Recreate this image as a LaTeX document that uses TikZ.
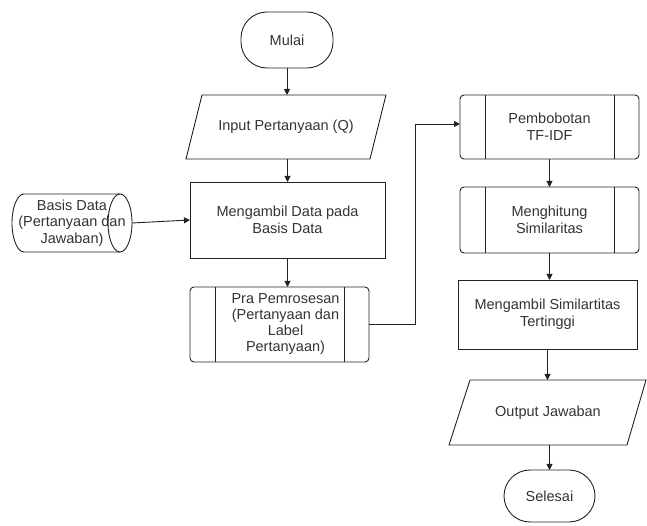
\documentclass[tikz,border=0pt]{standalone}
\usepackage{fontspec}
\setmainfont{Liberation Sans}
\usetikzlibrary{arrows.meta,calc}
\definecolor{txt}{HTML}{333333}
\definecolor{ln}{HTML}{222222}
\begin{document}
\begin{tikzpicture}[x=1pt,y=1pt,
  every node/.style={font=\fontsize{14.5}{16.5}\selectfont, text=txt, outer sep=0pt, inner sep=0pt, align=center},
  shp/.style={draw=ln, line width=0.9pt},
  term/.style={shp, rectangle, rounded corners=26pt},
  proc/.style={shp, rectangle},
  pproc/.style={shp, rectangle, rounded corners=4pt,
    path picture={
      \draw[ln, line width=0.9pt] ([xshift=25pt]path picture bounding box.north west) -- ([xshift=25pt]path picture bounding box.south west);
      \draw[ln, line width=0.9pt] ([xshift=-25pt]path picture bounding box.north east) -- ([xshift=-25pt]path picture bounding box.south east);}},
  io/.style={rectangle},
  arr/.style={draw=ln, line width=0.9pt, -{Triangle[length=6pt,width=6pt]}}
]
\useasboundingbox (0,0) rectangle (647,526);

% nodes
\node[term, minimum width=92pt, minimum height=56pt] (mulai) at (287,486) {Mulai};
\node[io, minimum width=200pt, minimum height=64pt] (inp) at (286,399) {Input Pertanyaan (Q)};
\node[proc, minimum width=195pt, minimum height=76pt] (meng) at (287.5,306) {Mengambil Data pada\\Basis Data};
\node[minimum width=120pt, minimum height=58pt] (bd) at (72,303) {Basis Data\\(Pertanyaan dan\\Jawaban)};
\node[pproc, minimum width=179pt, minimum height=75pt,
  label={[xshift=6pt, font=\fontsize{14.5}{16}\selectfont, text=txt, align=center]center:Pra Pemrosesan\\(Pertanyaan dan\\Label\\Pertanyaan)}] (pra) at (279.5,201.5) {};
\node[pproc, minimum width=179pt, minimum height=64pt] (pem) at (549.5,399) {Pembobotan\\TF-IDF};
\node[pproc, minimum width=179pt, minimum height=66pt] (hit) at (549.5,306) {Menghitung\\Similaritas};
\node[proc, minimum width=179pt, minimum height=69pt] (sim) at (547.5,211.5) {Mengambil Similartitas\\Tertinggi};
\node[io, minimum width=198pt, minimum height=65pt] (out) at (548,113.5) {Output Jawaban};
\node[term, minimum width=91pt, minimum height=52pt] (sel) at (549.5,30) {Selesai};

% parallelograms
\draw[shp] ([xshift=16pt]inp.north west) -- (inp.north east) -- ([xshift=-16pt]inp.south east) -- (inp.south west) -- cycle;
\draw[shp] ([xshift=21pt]out.north west) -- ([xshift=-1pt]out.north east) -- ([xshift=-20pt]out.south east) -- (out.south west) -- cycle;

% cylinder
\draw[shp] ([xshift=-12pt]bd.north east) -- ([xshift=12pt]bd.north west)
  arc[start angle=90, end angle=270, x radius=12pt, y radius=29pt]
  -- ([xshift=-12pt]bd.south east);
\draw[shp] ([xshift=-12pt]bd.east) ellipse [x radius=12pt, y radius=29pt];

% connectors
\draw[arr] (mulai.south) -- (mulai.south |- inp.north);
\draw[arr] (inp.south -| meng.north) -- (meng.north);
\draw[arr] (bd.east) -- (meng.west);
\draw[arr] (meng.south) -- (meng.south |- pra.north);
\draw[arr] (pra.east) -- ++(46,0) |- ([yshift=3pt]pem.west);
\draw[arr] (pem.south) -- (hit.north);
\draw[arr] (hit.south) -- (hit.south |- sim.north);
\draw[arr] (sim.south) -- (sim.south |- out.north);
\draw[arr] (out.south -| sel.north) -- (sel.north);
\end{tikzpicture}
\end{document}
